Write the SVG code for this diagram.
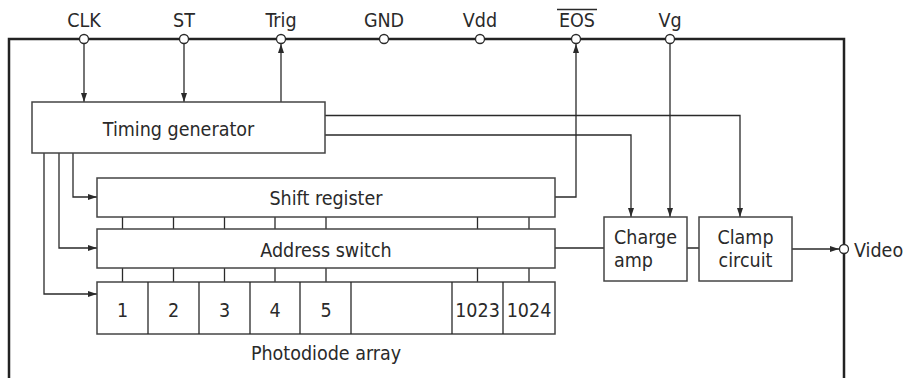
<svg xmlns="http://www.w3.org/2000/svg" width="903" height="378" viewBox="0 0 903 378">
<defs>
<marker id="ah" markerUnits="userSpaceOnUse" markerWidth="10" markerHeight="8" refX="9" refY="4" orient="auto">
<path d="M0,1 L9,4 L0,7 Z" fill="#2a2a2a"/>
</marker>
<style>
text{font-family:"DejaVu Sans Condensed","DejaVu Sans",sans-serif;font-size:19.5px;fill:#2a2a2a}
.box{fill:#fff;stroke:#444;stroke-width:1.5}
.ln{fill:none;stroke:#2a2a2a;stroke-width:1.3}
.arr{fill:none;stroke:#2a2a2a;stroke-width:1.3;marker-end:url(#ah)}
.pin{fill:#fff;stroke:#2a2a2a;stroke-width:1.3}
.frame{fill:none;stroke:#222;stroke-width:2.5}
.mid{text-anchor:middle}
</style>
</defs>
<rect width="903" height="378" fill="#fff"/>
<path class="frame" d="M9,378 V39 H844 V378"/>
<g id="connectors">
<path class="arr" d="M84,44 V102"/>
<path class="arr" d="M184,44 V102"/>
<path class="arr" d="M281,102 V44"/>
<path class="arr" d="M555,197 H576 V44"/>
<path class="arr" d="M670,44 V217"/>
<path class="arr" d="M325,135 H631 V217"/>
<path class="arr" d="M325,115.5 H740 V217"/>
<path class="arr" d="M73,153 V197 H97"/>
<path class="arr" d="M59,153 V248 H97"/>
<path class="arr" d="M44,153 V294 H97"/>
<path class="ln" d="M555,248 H604 M687,248 H699"/>
<path class="arr" d="M792,249 H839"/>
<path class="ln" d="M122.5,217 V229 M173.5,217 V229 M224.5,217 V229 M275,217 V229 M326,217 V229 M477.5,217 V229 M529,217 V229"/>
<path class="ln" d="M122.5,268 V282 M173.5,268 V282 M224.5,268 V282 M275,268 V282 M326,268 V282 M477.5,268 V282 M529,268 V282"/>
</g>
<g id="pins">
<circle class="pin" cx="84" cy="39" r="4.5"/>
<circle class="pin" cx="184" cy="39" r="4.5"/>
<circle class="pin" cx="281" cy="39" r="4.5"/>
<circle class="pin" cx="384" cy="39" r="4.5"/>
<circle class="pin" cx="480" cy="39" r="4.5"/>
<circle class="pin" cx="576" cy="39" r="4.5"/>
<circle class="pin" cx="670" cy="39" r="4.5"/>
<circle class="pin" cx="844" cy="249" r="4.5"/>
<text class="mid" x="84" y="27">CLK</text>
<text class="mid" x="184" y="27">ST</text>
<text class="mid" x="281" y="27">Trig</text>
<text class="mid" x="384" y="27">GND</text>
<text class="mid" x="480" y="27">Vdd</text>
<text class="mid" x="577" y="27">EOS</text>
<line x1="557" y1="9.5" x2="597" y2="9.5" stroke="#2a2a2a" stroke-width="1.3"/>
<text class="mid" x="670" y="27">Vg</text>
<text x="854" y="256.5">Video</text>
</g>
<g id="timing-generator">
<rect class="box" x="32" y="102" width="293" height="51"/>
<text class="mid" x="178.5" y="136">Timing generator</text>
</g>
<g id="shift-register">
<rect class="box" x="97" y="178" width="458" height="39"/>
<text class="mid" x="326" y="205">Shift register</text>
</g>
<g id="address-switch">
<rect class="box" x="97" y="229" width="458" height="39"/>
<text class="mid" x="326" y="256.5">Address switch</text>
</g>
<g id="photodiode-array">
<rect class="box" x="97" y="282" width="458" height="52"/>
<path class="ln" d="M148,282 V334 M199,282 V334 M250,282 V334 M300,282 V334 M351,282 V334 M452,282 V334 M503,282 V334"/>
<text class="mid" x="122.5" y="316.5">1</text>
<text class="mid" x="173.5" y="316.5">2</text>
<text class="mid" x="224.5" y="316.5">3</text>
<text class="mid" x="275" y="316.5">4</text>
<text class="mid" x="326" y="316.5">5</text>
<text class="mid" x="477.5" y="316.5">1023</text>
<text class="mid" x="529" y="316.5">1024</text>
<text class="mid" x="326" y="360">Photodiode array</text>
</g>
<g id="charge-amp">
<rect class="box" x="604" y="217" width="83" height="64"/>
<text x="614" y="244">Charge</text>
<text x="614" y="267">amp</text>
</g>
<g id="clamp-circuit">
<rect class="box" x="699" y="217" width="93" height="64"/>
<text class="mid" x="745.5" y="244">Clamp</text>
<text class="mid" x="745.5" y="267">circuit</text>
</g>
</svg>
